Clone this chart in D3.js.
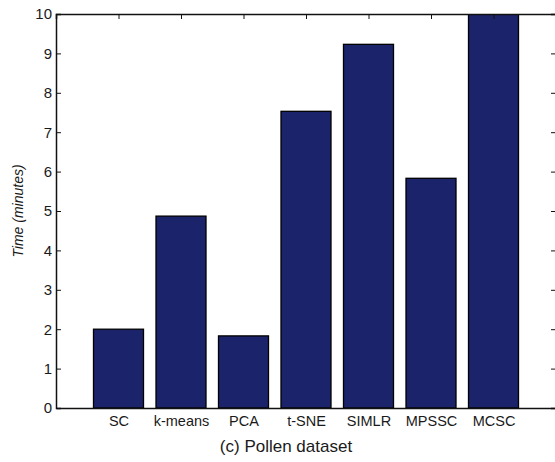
<!DOCTYPE html>
<html><head><meta charset="utf-8">
<script src="https://cdn.jsdelivr.net/npm/d3@7"></script>
<style>body{margin:0;background:#fff}svg{display:block}text{font-family:"Liberation Sans",Arial,sans-serif;fill:#1a1a1a}</style>
</head><body><div id="c"></div>
<script>
const categories = ["SC","k-means","PCA","t-SNE","SIMLR","MPSSC","MCSC"];
const times = [2.0, 4.87, 1.83, 7.53, 9.23, 5.83, 10.0];
const yTicks = [0,1,2,3,4,5,6,7,8,9,10];
const title = "(c) Pollen dataset";
const yLabel = "Time (minutes)";

const W = 555, H = 462;
const L = 56, R = 556, T = 14, B = 408;
const svg = d3.select("#c").append("svg").attr("width", W).attr("height", H);

const x = d3.scaleLinear().domain([0, categories.length + 1]).range([L, R]);
const y = d3.scaleLinear().domain([0, 10]).range([B, T]);
const bw = x(0.8) - x(0);

svg.append("defs").append("clipPath").attr("id","clip")
  .append("rect").attr("x", L).attr("y", T).attr("width", R - L).attr("height", B - T);

const g = svg.append("g").attr("clip-path","url(#clip)");
g.selectAll("rect.bar").data(times).enter().append("rect")
  .attr("class","bar")
  .attr("x", (d,i) => x(i+1) - bw/2)
  .attr("y", d => y(d))
  .attr("width", bw)
  .attr("height", d => y(0) - y(d))
  .attr("fill", "#1b236b")
  .attr("stroke", "#000")
  .attr("stroke-width", 1.3);

// axes
const yAxisL = d3.axisLeft(y).tickValues(yTicks).tickSize(-5).tickPadding(4).tickFormat(d3.format("d"));
const gl = svg.append("g").attr("transform", `translate(${L},0)`).call(yAxisL);
gl.selectAll("text").style("font-size","15px").attr("fill","#222");
const gr = svg.append("g").attr("transform", `translate(${R},0)`).call(d3.axisRight(y).tickValues(yTicks).tickSize(-5).tickFormat(""));
const xTop = d3.axisTop(x).tickValues(d3.range(1, categories.length+1)).tickSize(-5).tickFormat("");
svg.append("g").attr("transform", `translate(0,${T})`).call(xTop);
const xBot = d3.axisBottom(x).tickValues(d3.range(1, categories.length+1)).tickSize(0).tickPadding(8)
  .tickFormat((d) => categories[d-1]);
const gb = svg.append("g").attr("transform", `translate(0,${B})`).call(xBot);
gb.selectAll("text").style("font-size","14.5px").attr("fill","#222");
svg.selectAll(".domain").attr("stroke","#111").attr("stroke-width",1.5);
svg.selectAll(".tick line").attr("stroke","#111");

svg.append("text").attr("x", 286).attr("y", 452).attr("text-anchor","middle")
  .style("font-size","17px").attr("fill","#111").text(title);
svg.append("text").attr("transform", `translate(23,${(T+B)/2}) rotate(-90)`).attr("text-anchor","middle")
  .style("font-size","14px").style("font-style","italic").attr("fill","#222").text(yLabel);
</script></body></html>
